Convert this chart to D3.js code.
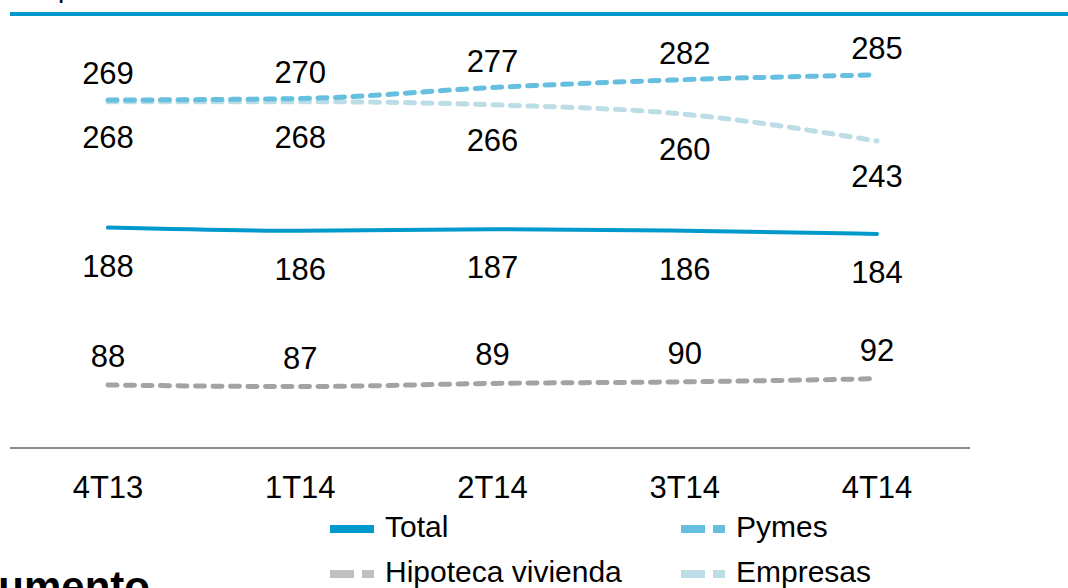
<!DOCTYPE html>
<html>
<head>
<meta charset="utf-8">
<script src="https://cdn.jsdelivr.net/npm/d3@7"></script>
<style>
  body { margin: 0; background: #fff; overflow: hidden; }
  svg { display: block; font-family: "Liberation Sans", Arial, sans-serif; }
</style>
</head>
<body>
<svg width="1068" height="588"></svg>
<script>
// data
const quarters = ["4T13", "1T14", "2T14", "3T14", "4T14"];
const pymes = [269, 270, 277, 282, 285];
const empresas = [268, 268, 266, 260, 243];
const total = [188, 186, 187, 186, 184];
const hipoteca = [88, 87, 89, 90, 92];

const series = [
  { name: "Total", values: total, color: "#0099CC", dash: null, width: 4, labelDy: 49, legend: [330, 529] },
  { name: "Pymes", values: pymes, color: "#66BFDF", dash: "9 8.5", width: 5, labelDy: -16, legend: [681, 529] },
  { name: "Hipoteca vivienda", values: hipoteca, color: "#A3A3A3", legendColor: "#C0C0C0", dash: "9 8.5", width: 5, labelDy: -18, legend: [330, 574] },
  { name: "Empresas", values: empresas, color: "#BCDDE6", dash: "9 8.5", width: 5, labelDy: 46, legend: [681, 574] }
];

const svg = d3.select("svg");

/* SCALES */
const x = d3.scalePoint()
  .domain(quarters)
  .range([108, 877]);

const y = d3.scaleLinear()
  .domain([0, 300])
  .range([523.5, 51.3]);

// header rule + cut-off title
svg.append("rect")
  .attr("x", 10).attr("y", 12)
  .attr("width", 1058).attr("height", 4)
  .attr("fill", "#0099CC");

svg.append("text")
  .attr("x", 58).attr("y", -3)
  .attr("font-size", 28)
  .text("p");

// baseline
svg.append("line")
  .attr("x1", 10).attr("x2", 970)
  .attr("y1", 448).attr("y2", 448)
  .attr("stroke", "#8C8C8C")
  .attr("stroke-width", 2);

// x labels
svg.selectAll("text.xlab")
  .data(quarters)
  .join("text")
  .attr("class", "xlab")
  .attr("x", d => x(d))
  .attr("y", 498)
  .attr("text-anchor", "middle")
  .attr("font-size", 31)
  .text(d => d);

/* LINES */
const line = d3.line()
  .x((d, i) => x(quarters[i]))
  .y(d => y(d))
  .curve(d3.curveMonotoneX);

// draw Empresas under Pymes
const drawOrder = [series[3], series[2], series[0], series[1]];
svg.selectAll("path.series")
  .data(drawOrder)
  .join("path")
  .attr("class", "series")
  .attr("d", d => line(d.values))
  .attr("fill", "none")
  .attr("stroke", d => d.color)
  .attr("stroke-width", d => d.width)
  .attr("stroke-linecap", "round")
  .attr("stroke-dasharray", d => d.dash);

// value labels
series.forEach(s => {
  svg.selectAll(null)
    .data(s.values)
    .join("text")
    .attr("x", (d, i) => x(quarters[i]))
    .attr("y", d => y(d) + s.labelDy)
    .attr("text-anchor", "middle")
    .attr("font-size", 31)
    .text(d => d);
});

/* LEGEND */
const leg = svg.selectAll("g.leg")
  .data(series)
  .join("g")
  .attr("class", "leg")
  .attr("transform", d => `translate(${d.legend[0]}, ${d.legend[1]})`);

leg.append("line")
  .attr("x1", 0).attr("x2", 44)
  .attr("stroke", d => d.legendColor || d.color)
  .attr("stroke-width", 8)
  .attr("stroke-dasharray", d => d.dash ? "24 8" : null);

leg.append("text")
  .attr("x", 55)
  .attr("y", 8)
  .attr("font-size", 30)
  .text(d => d.name);

// cut-off heading at bottom left
svg.append("text")
  .attr("x", 150).attr("y", 601)
  .attr("text-anchor", "end")
  .attr("font-size", 42)
  .attr("font-weight", "bold")
  .text("Aumento");
</script>
</body>
</html>
